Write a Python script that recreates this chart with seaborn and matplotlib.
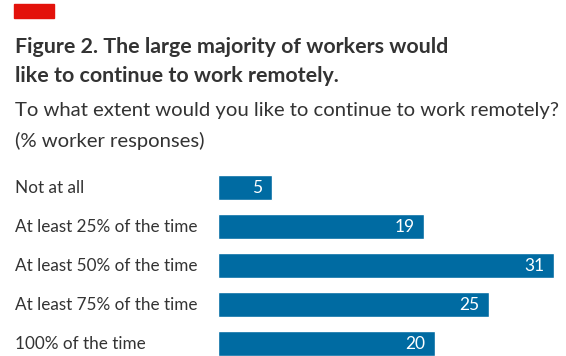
import numpy as np
import pandas as pd
import matplotlib
matplotlib.use("Agg")
import matplotlib.pyplot as plt
import matplotlib.transforms as mtransforms
import seaborn as sns

# data
answers = ["Not at all", "At least 25% of the time", "At least 50% of the time",
           "At least 75% of the time", "100% of the time"]
shares = [5, 19, 31, 25, 20]

title = "Figure 2. The large majority of workers would\nlike to continue to work remotely."
subtitle = "To what extent would you like to continue to work remotely?\n(% worker responses)"

df = pd.DataFrame({"answer": answers, "share": shares})

sns.set_theme(style="white")
plt.rcParams["font.family"] = ["Lato", "DejaVu Sans"]

W, H = 566, 356
fig = plt.figure(figsize=(W / 100, H / 100), dpi=100)

# axes placed in pixel terms: left 218, right 566, top 168, bottom 356
ax = fig.add_axes([218 / W, 0, (566 - 218) / W, (356 - 168) / H])
sns.barplot(data=df, x="share", y="answer", color="#006BA2", width=0.64,
            saturation=1, ax=ax)
ax.set_xlim(0, 32.1)
ax.set_ylim(4.32, -0.5)
ax.set_axis_off()

# category labels at left of the figure
trans = mtransforms.blended_transform_factory(fig.transFigure, ax.transData)
for i, lab in enumerate(answers):
    ax.text(15 / W, i, lab, transform=trans, ha="left", va="center",
            fontsize=12.3, color="#333333")

# value labels inside bars
for i, v in enumerate(shares):
    ax.annotate(str(v), xy=(v, i), xytext=(-7, 0), textcoords="offset points",
                ha="right", va="center", color="white", fontsize=12.5)

# red tag
fig.patches.append(plt.Rectangle((14 / W, 1 - 18 / H), 40 / W, 14 / H,
                                 transform=fig.transFigure, color="#E3120B"))

fig.text(15 / W, 1 - 37 / H, title, ha="left", va="top", fontsize=15.4,
         fontweight="bold", color="#333333", linespacing=1.55)
fig.text(15 / W, 1 - 102 / H, subtitle, ha="left", va="top", fontsize=14.6,
         color="#333333", linespacing=1.85)

fig.savefig("out.png", dpi=100)
